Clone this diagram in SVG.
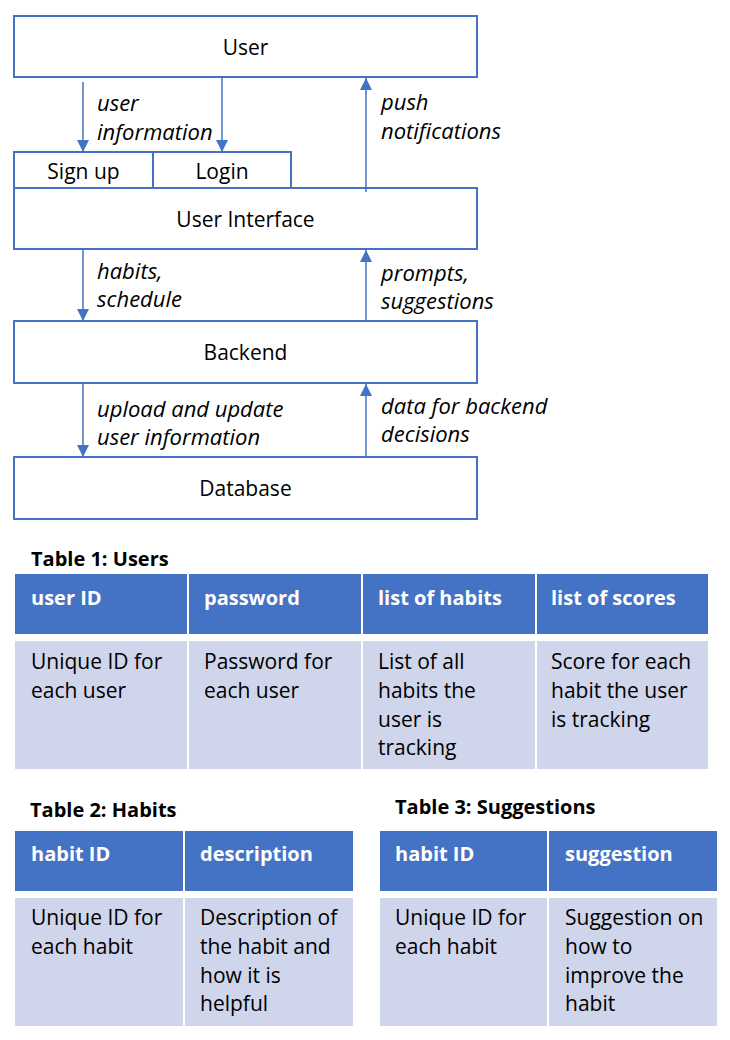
<svg xmlns="http://www.w3.org/2000/svg" width="730" height="1040" viewBox="0 0 730 1040">
<defs>
<marker id="ah" markerUnits="userSpaceOnUse" markerWidth="12" markerHeight="12" refX="12" refY="6" orient="auto">
<path d="M0,0 L12,6 L0,12 z" fill="#4472C4"/>
</marker>
<style>
.box{fill:#fff;stroke:#4472C4;stroke-width:2}
.lbl{font-family:"Open Sans","Liberation Sans",sans-serif;font-size:21px;fill:#000;text-anchor:middle}
.it{font-family:"Open Sans","Liberation Sans",sans-serif;font-size:22px;font-style:italic;fill:#000}
.con{stroke:#4472C4;stroke-width:1.5;fill:none;marker-end:url(#ah)}
.ttl{font-family:"Open Sans","Liberation Sans",sans-serif;font-size:20px;font-weight:bold;fill:#000}
.hd{fill:#4472C4}
.bd{fill:#CFD5EA}
.ht{font-family:"Open Sans","Liberation Sans",sans-serif;font-size:20px;font-weight:bold;fill:#fff}
.bt{font-family:"Open Sans","Liberation Sans",sans-serif;font-size:21px;fill:#000}
</style>
</defs>
<rect width="730" height="1040" fill="#fff"/>

<g id="user"><rect class="box" x="14" y="16" width="463" height="61"/><text class="lbl" x="245.5" y="55">User</text></g>
<g id="signup"><rect class="box" x="14" y="152" width="139" height="36"/><text class="lbl" x="83.5" y="179">Sign up</text></g>
<g id="login"><rect class="box" x="153" y="152" width="138" height="36"/><text class="lbl" x="222" y="179">Login</text></g>
<g id="ui"><rect class="box" x="14" y="188" width="463" height="61"/><text class="lbl" x="245.5" y="227">User Interface</text></g>
<g id="backend"><rect class="box" x="14" y="321" width="463" height="62"/><text class="lbl" x="245.5" y="360">Backend</text></g>
<g id="database"><rect class="box" x="14" y="457" width="463" height="62"/><text class="lbl" x="245.5" y="496">Database</text></g>

<g id="connectors">
<line class="con" x1="83" y1="82" x2="83" y2="152"/>
<line class="con" x1="222" y1="77" x2="222" y2="152"/>
<line class="con" x1="366" y1="192" x2="366" y2="78"/>
<line class="con" x1="83" y1="249" x2="83" y2="321"/>
<line class="con" x1="366" y1="320" x2="366" y2="250"/>
<line class="con" x1="83" y1="383" x2="83" y2="457"/>
<line class="con" x1="366" y1="457" x2="366" y2="384"/>
<text class="it" x="97" y="111">user</text>
<text class="it" x="97" y="140">information</text>
<text class="it" x="381" y="110">push</text>
<text class="it" x="381" y="139">notifications</text>
<text class="it" x="97" y="279">habits,</text>
<text class="it" x="97" y="307">schedule</text>
<text class="it" x="381" y="281">prompts,</text>
<text class="it" x="381" y="309">suggestions</text>
<text class="it" x="97" y="417">upload and update</text>
<text class="it" x="97" y="445">user information</text>
<text class="it" x="381" y="414">data for backend</text>
<text class="it" x="381" y="442">decisions</text>
</g>

<g id="table1">
<text class="ttl" x="31" y="566">Table 1: Users</text>
<rect class="hd" x="15" y="574" width="172" height="60"/>
<rect class="hd" x="189" y="574" width="172" height="60"/>
<rect class="hd" x="363" y="574" width="172" height="60"/>
<rect class="hd" x="537" y="574" width="171" height="60"/>
<rect class="bd" x="15" y="641" width="172" height="128"/>
<rect class="bd" x="189" y="641" width="172" height="128"/>
<rect class="bd" x="363" y="641" width="172" height="128"/>
<rect class="bd" x="537" y="641" width="171" height="128"/>
<text class="ht" x="31" y="605">user ID</text>
<text class="ht" x="204" y="605">password</text>
<text class="ht" x="378" y="605">list of habits</text>
<text class="ht" x="551" y="605">list of scores</text>
<text class="bt" x="31" y="669">Unique ID for</text>
<text class="bt" x="31" y="698">each user</text>
<text class="bt" x="204" y="669">Password for</text>
<text class="bt" x="204" y="698">each user</text>
<text class="bt" x="378" y="669">List of all</text>
<text class="bt" x="378" y="698">habits the</text>
<text class="bt" x="378" y="727">user is</text>
<text class="bt" x="378" y="755">tracking</text>
<text class="bt" x="551" y="669">Score for each</text>
<text class="bt" x="551" y="698">habit the user</text>
<text class="bt" x="551" y="727">is tracking</text>
</g>

<g id="table2">
<text class="ttl" x="30" y="817">Table 2: Habits</text>
<rect class="hd" x="15" y="831" width="168" height="60"/>
<rect class="hd" x="185" y="831" width="168" height="60"/>
<rect class="bd" x="15" y="898" width="168" height="128"/>
<rect class="bd" x="185" y="898" width="168" height="128"/>
<text class="ht" x="31" y="861">habit ID</text>
<text class="ht" x="200" y="861">description</text>
<text class="bt" x="31" y="925">Unique ID for</text>
<text class="bt" x="31" y="954">each habit</text>
<text class="bt" x="200" y="925">Description of</text>
<text class="bt" x="200" y="954">the habit and</text>
<text class="bt" x="200" y="983">how it is</text>
<text class="bt" x="200" y="1011">helpful</text>
</g>

<g id="table3">
<text class="ttl" x="395" y="814">Table 3: Suggestions</text>
<rect class="hd" x="380" y="831" width="167" height="60"/>
<rect class="hd" x="549" y="831" width="168" height="60"/>
<rect class="bd" x="380" y="898" width="167" height="128"/>
<rect class="bd" x="549" y="898" width="168" height="128"/>
<text class="ht" x="395" y="861">habit ID</text>
<text class="ht" x="565" y="861">suggestion</text>
<text class="bt" x="395" y="925">Unique ID for</text>
<text class="bt" x="395" y="954">each habit</text>
<text class="bt" x="565" y="925">Suggestion on</text>
<text class="bt" x="565" y="954">how to</text>
<text class="bt" x="565" y="983">improve the</text>
<text class="bt" x="565" y="1011">habit</text>
</g>
</svg>
